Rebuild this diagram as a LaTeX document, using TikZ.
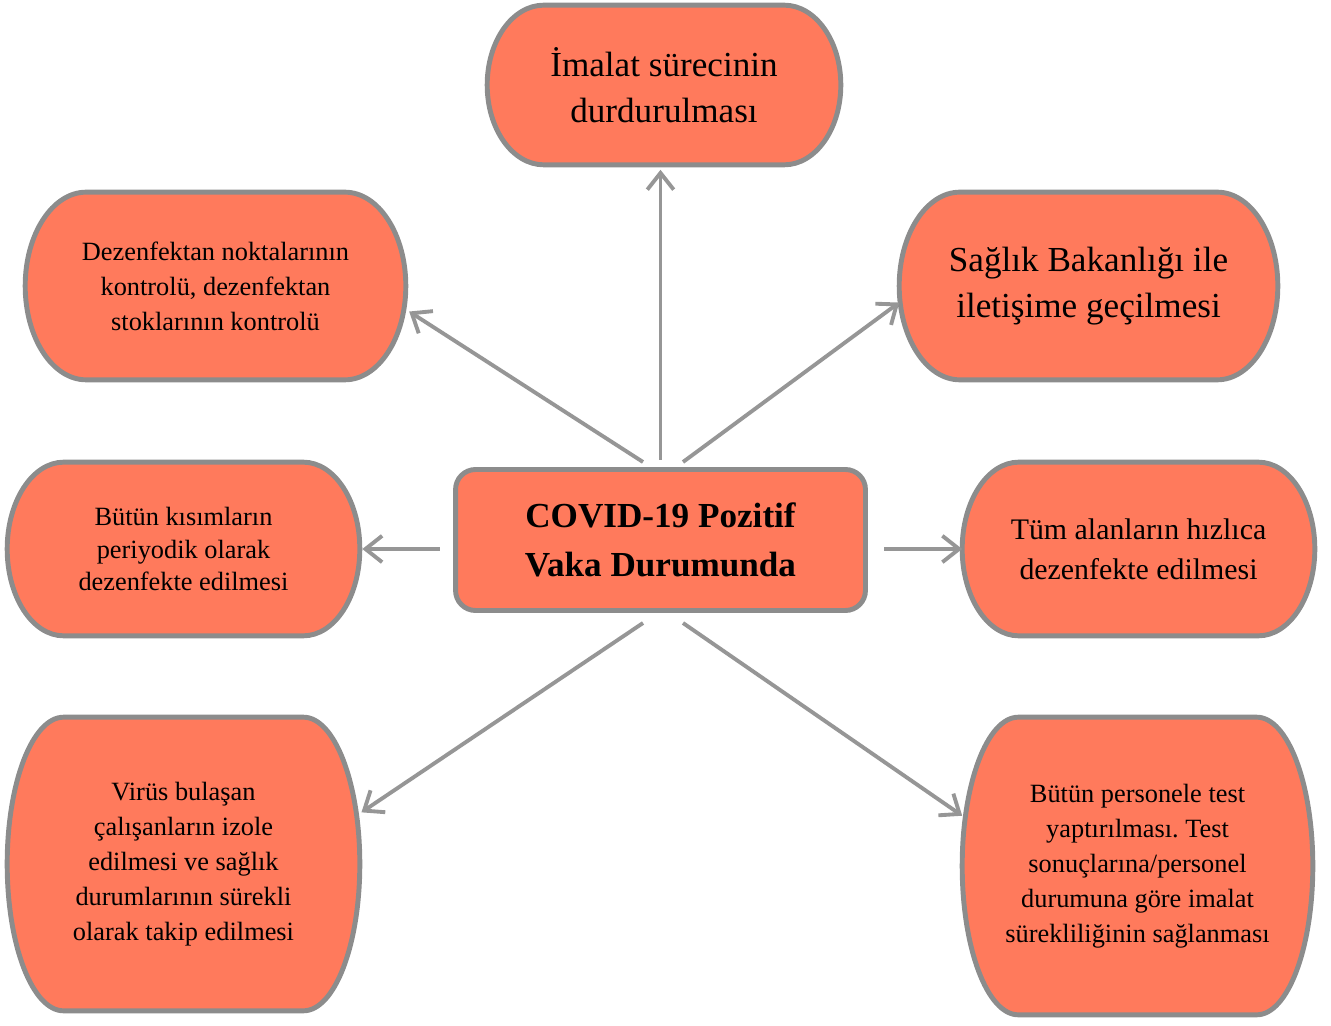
\documentclass[tikz,border=0pt]{standalone}
\usepackage{fontspec}
\setmainfont{Liberation Serif}
\usepackage{xcolor}
\usepackage{tikz}
\usetikzlibrary{calc,arrows.meta}
\frenchspacing

\definecolor{boxfill}{RGB}{255,122,92}
\definecolor{boxline}{RGB}{140,140,140}
\definecolor{arrowgray}{RGB}{150,150,150}

\pgfdeclarelayer{background}
\pgfsetlayers{background,main}

\begin{document}
\begin{tikzpicture}[x=0.02cm,y=-0.02cm,
    termbox/.style={rectangle,inner sep=0pt,align=center},
    mainbox/.style={rectangle,draw=boxline,fill=boxfill,line width=2.8pt,
      rounded corners=0.4cm,align=center,minimum width=8.2cm,minimum height=2.82cm,
      font=\fontsize{20}{28}\selectfont\bfseries},
    outline/.style={draw=boxline,fill=boxfill,line width=2.8pt},
    link/.style={draw=arrowgray,line width=2.2pt,-{Straight Barb[length=9.5pt,width=15pt]}}]
    \useasboundingbox (0,0) rectangle (1331,1026);

    \node[mainbox] (cv) at (660.5,540) {COVID-19 Pozitif\\Vaka Durumunda};

    \node[termbox,minimum width=7.06cm,minimum height=3.18cm,font=\fontsize{20}{26.5}\selectfont]
      (top) at (664,85) {İmalat sürecinin\\durdurulması};
    \node[termbox,minimum width=7.6cm,minimum height=3.74cm,font=\fontsize{15}{20}\selectfont]
      (ul) at (215.5,286) {Dezenfektan noktalarının\\kontrolü, dezenfektan\\stoklarının kontrolü};
    \node[termbox,minimum width=7.56cm,minimum height=3.74cm,font=\fontsize{20}{26.5}\selectfont]
      (ur) at (1088.5,286) {Sağlık Bakanlığı ile\\iletişime geçilmesi};
    \node[termbox,minimum width=7.04cm,minimum height=3.46cm,font=\fontsize{15}{18.7}\selectfont]
      (ml) at (183.5,549) {Bütün kısımların\\periyodik olarak\\dezenfekte edilmesi};
    \node[termbox,minimum width=7.04cm,minimum height=3.46cm,font=\fontsize{17}{22.7}\selectfont]
      (mr) at (1138.5,549) {Tüm alanların hızlıca\\dezenfekte edilmesi};
    \node[termbox,minimum width=7.04cm,minimum height=5.86cm,font=\fontsize{15}{20}\selectfont]
      (ll) at (183.5,864) {Virüs bulaşan\\çalışanların izole\\edilmesi ve sağlık\\durumlarının sürekli\\olarak takip edilmesi};
    \node[termbox,minimum width=7cm,minimum height=5.94cm,font=\fontsize{15}{20}\selectfont]
      (lr) at (1137.5,866) {Bütün personele test\\yaptırılması. Test\\sonuçlarına/personel\\durumuna göre imalat\\sürekliliğinin sağlanması};

    % terminator outlines behind the texts
    \begin{pgfonlayer}{background}
      \foreach \bx in {top,ul,ur,ml,mr,ll,lr}
        \draw[outline] let \p1=(\bx.north west), \p2=(\bx.south east),
          \n1={0.16*(\x2-\x1)}, \n2={0.5*(\y1-\y2)} in
          (\x1+\n1*1pt,\y1) -- (\x2-\n1*1pt,\y1)
          arc[start angle=90,end angle=-90,x radius=\n1*1pt,y radius=\n2*1pt]
          -- (\x1+\n1*1pt,\y2)
          arc[start angle=270,end angle=90,x radius=\n1*1pt,y radius=\n2*1pt]
          -- cycle;
    \end{pgfonlayer}

    \coordinate (ulfoot) at (643,462);
    \coordinate (urfoot) at (683,462);
    \coordinate (llfoot) at (643,623);
    \coordinate (lrfoot) at (683,623);

    \draw[link,shorten <=0.15cm,shorten >=0.1cm] (cv.north) -- (cv.north |- top.south);
    \draw[link,shorten >=0.08cm] (ulfoot) -- (ul.-7);
    \draw[link] (urfoot) -- (ur.185);
    \draw[link,shorten <=0.27cm,shorten >=0.05cm] (cv.west |- ml.east) -- (ml.east);
    \draw[link,shorten <=0.33cm] (cv.east |- mr.west) -- (mr.west);
    \draw[link,shorten >=0.04cm] (llfoot) -- (ll.16);
    \draw[link] (lrfoot) -- (lr.164);
  \end{tikzpicture}
\end{document}
